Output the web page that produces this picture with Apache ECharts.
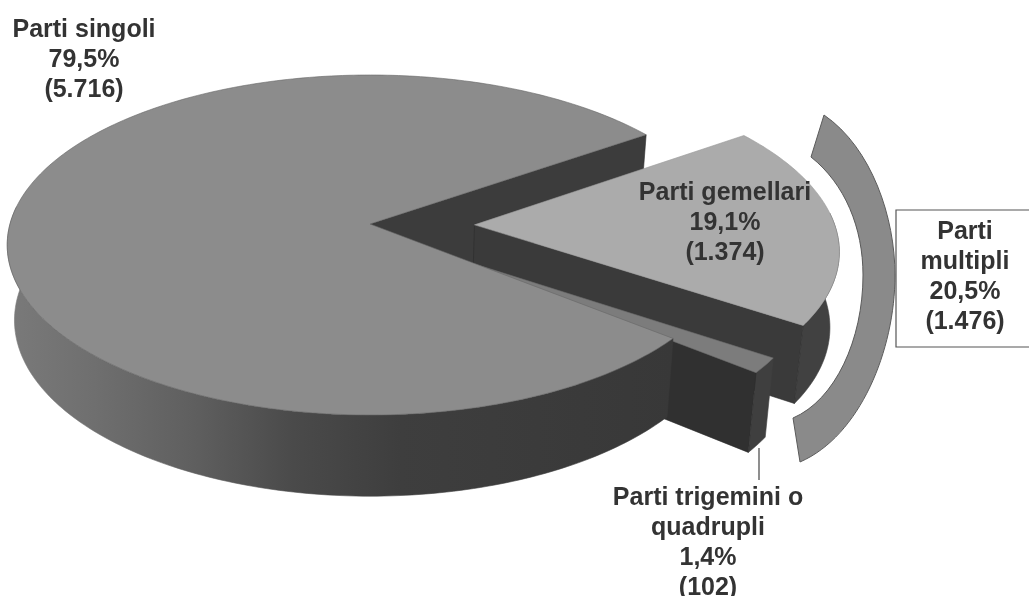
<!DOCTYPE html>
<html>
<head>
<meta charset="utf-8">
<title>Parti</title>
<script src="https://cdn.jsdelivr.net/npm/echarts@6/dist/echarts.min.js"></script>
<style>
html,body{margin:0;padding:0;background:#fff;}
#chart{width:1029px;height:596px;}
</style>
</head>
<body>
<div id="chart"></div>
<script>
var names=['Parti singoli','Parti gemellari','Parti trigemini o\nquadrupli'];
var counts=[5716,1374,102];
var percents=['79,5%','19,1%','1,4%'];
var groupName='Parti\nmultipli';
var groupPercent='20,5%';
var groupCount=1476;

var total=counts[0]+counts[1]+counts[2];
var startAngle=-34.8;//where parti gemellari starts, clockwise from the right
var explode=[0,0.29,0.255];//how far each slice is pulled out
var explodeAngle=[0,1,41.8];
var sliceOrder=[1,2,0];

//the slices start at gemellari and go clockwise, singoli last
var angles=[];
(function(){
    var a=startAngle;
    for(var i=0;i<sliceOrder.length;i++){
        var n=sliceOrder[i];
        var b=a+counts[n]/total*360;
        angles[n]=[a,b];
        a=b;
    }
})();

//perspective of the tilted disc
var X0=370,Y0=224,W=360,H=167.4,D=74.5,P=0.1235;
function project(u,v,z){
    var k=1/(1-P*v);
    var s=1-0.02*z;
    return [X0+W*u*k*s,Y0+H*v*k*s+D*k*z];
}
function rad(a){return a*Math.PI/180;}
function offset(n){
    var m=rad(explodeAngle[n]);
    return [explode[n]*Math.cos(m),explode[n]*Math.sin(m)];
}
function rim(n,a,z){
    var o=offset(n);
    return project(o[0]+Math.cos(rad(a)),o[1]+Math.sin(rad(a)),z);
}
function tip(n,z){
    var o=offset(n);
    return project(o[0],o[1],z);
}
function poly(points,fill,z2,stroke){
    return {
        type:'polygon',
        z2:z2,
        shape:{points:points},
        style:{fill:fill,stroke:stroke||fill,lineWidth:0.6}
    };
}
function topFace(n,z2,fill,stroke){
    var pts=[tip(n,0)];
    for(var a=angles[n][0];a<angles[n][1];a+=1){pts.push(rim(n,a,0));}
    pts.push(rim(n,angles[n][1],0));
    return poly(pts,fill,z2,stroke);
}
function outerWall(n,from,to,z2,fill){
    var pts=[],a;
    for(a=from;a<to;a+=1){pts.push(rim(n,a,0));}
    pts.push(rim(n,to,0));
    pts.push(rim(n,to,1));
    for(a=to;a>from;a-=1){pts.push(rim(n,a,1));}
    pts.push(rim(n,from,1));
    return poly(pts,fill,z2);
}
function radialWall(n,a,z2,fill){
    return poly([tip(n,0),rim(n,a,0),rim(n,a,1),tip(n,1)],fill,z2,'#2b2b2b');
}

function renderSlice(params,api){
    var n=params.dataIndex;
    var a=angles[n];
    var children=[];
    if(api.value(0)<=0){return;}
    if(n===0){
        children.push(radialWall(0,a[1],1,'#3c3c3c'));
        children.push(outerWall(0,a[0],186,8,{
            type:'linear',x:0,y:0,x2:1,y2:0,
            colorStops:[
                {offset:0,color:'#7a7a7a'},
                {offset:0.13,color:'#6f6f6f'},
                {offset:0.28,color:'#5f5f5f'},
                {offset:0.43,color:'#4a4a4a'},
                {offset:0.59,color:'#3e3e3e'},
                {offset:1,color:'#383838'}
            ]
        }));
        children.push(topFace(0,9,'#8c8c8c','#666666'));
    }else if(n===1){
        children.push(outerWall(1,-4,a[1],2,'#414141'));
        children.push(radialWall(1,a[1],3,'#3a3a3a'));
        children.push(topFace(1,4,'#ababab','#9a9a9a'));
    }else{
        children.push(outerWall(2,a[0],a[1],5,'#3f3f3f'));
        children.push(radialWall(2,a[1],6,'#303030'));
        children.push(topFace(2,7,'#7c7c7c','#6a6a6a'));
    }
    return {type:'group',children:children};
}

//bracket round the two separated slices
function renderBracket(){
    return {
        type:'path',
        z2:1,
        shape:{pathData:'M824 115 C872 148 895 218 895 275 C895 350 860 436 800 462 L793 418 C835 400 863 340 863 275 C863 228 845 184 811 157 Z'},
        style:{fill:'#8a8a8a',stroke:'#5a5a5a',lineWidth:1}
    };
}

function fmt(c){
    var s=String(c);
    return s.length>3?s.slice(0,-3)+'.'+s.slice(-3):s;
}
function label(text,x,y){
    return {
        type:'text',
        z:10,
        x:x,
        y:y,
        style:{
            text:text,
            fill:'#333333',
            font:'bold 25px "Liberation Sans",Arial,sans-serif',
            lineHeight:30,
            align:'center',
            verticalAlign:'top'
        }
    };
}

var myChart=echarts.init(document.getElementById('chart'));
var option={
    animation:false,
    series:[
        {
            type:'custom',
            coordinateSystem:'none',
            renderItem:renderSlice,
            data:counts.map(function(c){return [c];})
        },
        {
            type:'custom',
            coordinateSystem:'none',
            renderItem:renderBracket,
            data:[[groupCount]]
        }
    ],
    graphic:[
        {
            type:'rect',
            z:5,
            shape:{x:896,y:210,width:140,height:137},
            style:{fill:'#fff',stroke:'#555',lineWidth:1.2}
        },
        //leader line
        {
            type:'line',
            z:5,
            shape:{x1:759,y1:448,x2:759,y2:480},
            style:{stroke:'#444',lineWidth:1.2}
        },
        label(names[0]+'\n'+percents[0]+'\n('+fmt(counts[0])+')',84,15),
        label(names[1]+'\n'+percents[1]+'\n('+fmt(counts[1])+')',725,178),
        label(names[2]+'\n'+percents[2]+'\n('+fmt(counts[2])+')',708,483),
        label(groupName+'\n'+groupPercent+'\n('+fmt(groupCount)+')',965,217)
    ]
};
myChart.setOption(option);
</script>
</body>
</html>
